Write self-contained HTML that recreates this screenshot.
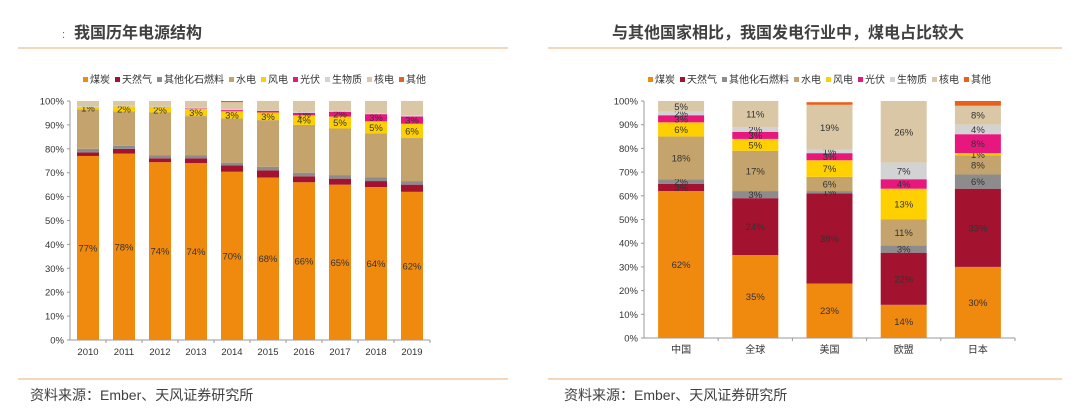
<!DOCTYPE html>
<html><head><meta charset="utf-8"><style>
body{margin:0;background:#fff;}
svg{display:block;font-family:"Liberation Sans","Noto Sans CJK SC",sans-serif;}
</style></head><body>
<svg id="s" width="1080" height="416" viewBox="0 0 1080 416">
<text x="62" y="38" font-size="11" fill="#666">:</text>
<text x="74" y="38" font-size="16" font-weight="bold" fill="#404040">我国历年电源结构</text>
<line x1="18" y1="48" x2="508" y2="48" stroke="#F0C9A3" stroke-width="1.5"/>
<text x="612" y="38" font-size="16" font-weight="bold" fill="#404040">与其他国家相比，我国发电行业中，煤电占比较大</text>
<line x1="548" y1="48" x2="1062" y2="48" stroke="#F0C9A3" stroke-width="1.5"/>
<line x1="18" y1="379" x2="508" y2="379" stroke="#F0C9A3" stroke-width="1.5"/>
<line x1="548" y1="379" x2="1062" y2="379" stroke="#F0C9A3" stroke-width="1.5"/>
<text x="30" y="400" font-size="14" fill="#404040">资料来源：Ember、天风证券研究所</text>
<text x="564" y="400" font-size="14" fill="#404040">资料来源：Ember、天风证券研究所</text>
<g id="left"></g>
<g id="right"></g>
</svg>
<script>
const seriesNames=["煤炭","天然气","其他化石燃料","水电","风电","光伏","生物质","核电","其他"];
const leftYears=["2010","2011","2012","2013","2014","2015","2016","2017","2018","2019"];
const leftCoal=[77,78,74.4,74,70.4,68,66,65,64,62];
const leftGas=[1.5,2,1.6,2,2.6,3,2.5,2.5,2.5,3];
const leftOtherFossil=[1.5,1.2,1.2,1.2,1.2,1.5,1.5,1.5,1.5,1.5];
const leftHydro=[16.5,14.5,18,16.5,18.5,19.5,20,19.5,18.5,18];
const leftWind=[1,2,2,3,3,3.2,4,5,5,6];
const leftSolar=[0,0,0.1,0.2,0.5,0.7,1,2,3,3];
const leftBio=[0.3,0.3,0.3,0.3,0.3,0.3,0.5,0.5,0.5,0.5];
const leftNuclear=[2.2,2,2.4,2.8,3,3.8,4.5,4,5,6];
const leftOther=[0,0,0,0,0.5,0,0,0,0,0];
const rightRegions=["中国","全球","美国","欧盟","日本"];
const rightCoal=[62,35,23,14,30];
const rightGas=[3,24,38,22,33];
const rightOtherFossil=[2,3,1,3,6];
const rightHydro=[18,17,6,11,8];
const rightWind=[6,5,7,13,1];
const rightSolar=[3,3,3,4,8];
const rightBio=[1.5,2,1.4,7,4];
const rightNuclear=[4.5,11,19,26,8];
const rightOther=[0,0,1.1,0,2];
const yTicks=[0,10,20,30,40,50,60,70,80,90,100];
const colors=["#F08A0F","#A3122F","#8C8C8C","#C4A46C","#FFD000","#E8177E","#D3D3D3","#D9C7A6","#E8601C"];
const NS="http://www.w3.org/2000/svg";
function mk(parent,tag,attrs){const e=document.createElementNS(NS,tag);for(const k in attrs)e.setAttribute(k,attrs[k]);parent.appendChild(e);return e;}
function chart(g,cfg){
  const y=v=>cfg.y0-(v/100)*(cfg.y0-cfg.y100);
  const x=i=>cfg.x0+cfg.step*(i+0.5);
  let lx=cfg.legX;
  seriesNames.forEach((n,i)=>{
    const r=mk(g,"rect",{x:lx,y:77,width:5,height:5,fill:colors[i]});
    
    
    const t=mk(g,"text",{x:lx+7,y:83,"font-size":10,fill:"#333"});t.textContent=n;
    
    
    lx+=7+n.length*10+5;
  });
  yTicks.forEach(v=>{
    const t=mk(g,"text",{x:cfg.x0-6,y:y(v)+3.5,"font-size":9.5,fill:"#333","text-anchor":"end"});t.textContent=v+"%";
    
    
    const l=mk(g,"line",{x1:cfg.x0-3,x2:cfg.x0,y1:y(v),y2:y(v),stroke:"#999"});
    
    
  });
  cfg.cats.forEach((c,i)=>{
    let acc=0;
    cfg.series.forEach((arr,s)=>{
      const v=arr[i];if(v<=0)return;
      const r=mk(g,"rect",{x:x(i)-cfg.bw/2,y:y(acc+v),width:cfg.bw,height:y(acc)-y(acc+v),fill:colors[s]});
      
      
      if(cfg.labelSeries.includes(s)&&v>=1){
        const t=mk(g,"text",{x:x(i),y:y(acc+v/2)+3.5,"font-size":9.5,fill:"#333","text-anchor":"middle"});
        t.textContent=Math.round(v)+"%";
        
        
      }
      acc+=v;
    });
    const t=mk(g,"text",{x:x(i),y:cfg.y0+15,"font-size":cfg.catFont,fill:"#333","text-anchor":"middle"});t.textContent=c;
    
    
    const l=mk(g,"line",{x1:cfg.x0+cfg.step*(i+1),x2:cfg.x0+cfg.step*(i+1),y1:cfg.y0,y2:cfg.y0+3,stroke:"#999"});
    
    
  });
  const ax=mk(g,"line",{x1:cfg.x0,x2:cfg.x0,y1:cfg.y100,y2:cfg.y0,stroke:"#999"});
  
  
  const bx=mk(g,"line",{x1:cfg.x0,x2:cfg.x0+cfg.step*cfg.cats.length,y1:cfg.y0,y2:cfg.y0,stroke:"#999"});
  
  
}
chart(document.getElementById("left"),{x0:70,step:36,bw:22,y0:340,y100:101,legX:83,cats:leftYears,catFont:9.5,
 series:[leftCoal,leftGas,leftOtherFossil,leftHydro,leftWind,leftSolar,leftBio,leftNuclear,leftOther],labelSeries:[0,4,5]});
chart(document.getElementById("right"),{x0:644,step:74.2,bw:46,y0:338,y100:101,legX:648,cats:rightRegions,catFont:10,
 series:[rightCoal,rightGas,rightOtherFossil,rightHydro,rightWind,rightSolar,rightBio,rightNuclear,rightOther],labelSeries:[0,1,2,3,4,5,6,7]});
</script>
</body></html>
